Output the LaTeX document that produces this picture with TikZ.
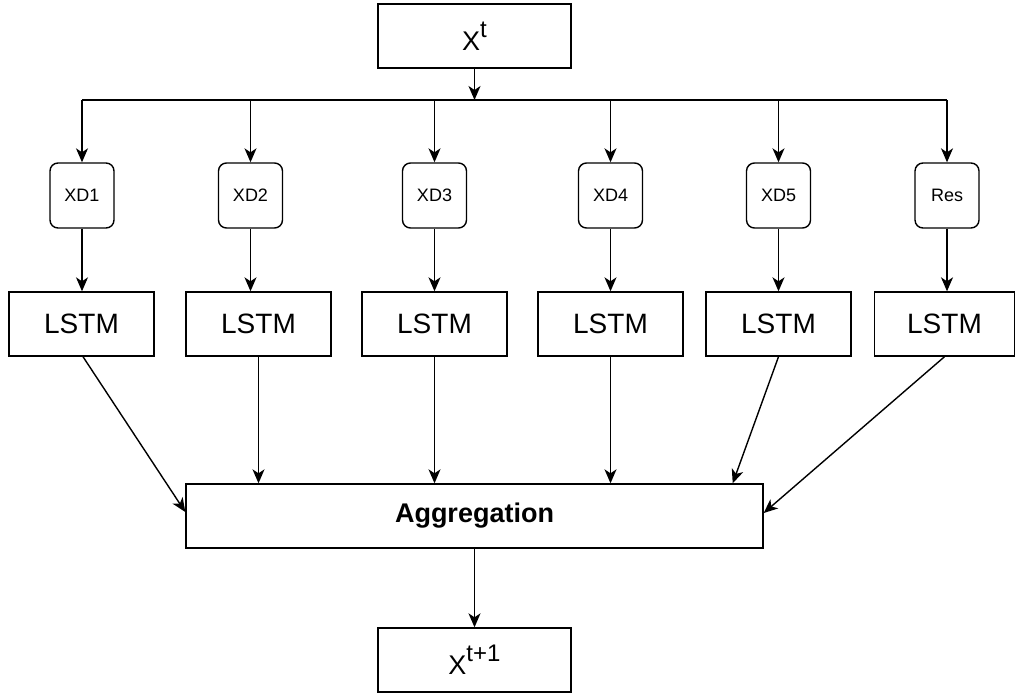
\documentclass[tikz,border=0pt]{standalone}
\usepackage{fontspec}
\setmainfont{Liberation Sans}
\usetikzlibrary{arrows.meta}
\newcommand{\xsup}[1]{X\raisebox{13pt}{\fontsize{24}{24}\selectfont #1}}

\begin{document}
\begin{tikzpicture}[x=1pt,y=-1pt,>={Stealth[length=14pt,width=12pt,inset=4pt]},line width=1.4pt]
  \tikzstyle{io}=[draw, minimum width=193pt, minimum height=64pt, inner sep=0pt,
    font=\fontsize{27}{28}\selectfont]
  \tikzstyle{part}=[draw, rounded corners=8pt, minimum width=64pt, minimum height=65pt,
    inner sep=0pt, font=\fontsize{18}{19}\selectfont]
  \tikzstyle{lstm}=[draw, minimum width=145pt, minimum height=64pt, inner sep=0pt,
    font=\fontsize{28}{29}\selectfont]
  \tikzstyle{agg}=[draw, minimum width=577pt, minimum height=64pt, inner sep=0pt,
    font=\fontsize{27}{28}\selectfont\bfseries]

  \useasboundingbox (0,0) rectangle (1016,694);

  \node[io] (xin) at (474.5,36) {\xsup{t}};
  \coordinate (bus) at (474.5,100);

  \node[part] (xd1) at (82,195.5) {XD1};
  \node[part] (xd2) at (250.5,195.5) {XD2};
  \node[part] (xd3) at (434.5,195.5) {XD3};
  \node[part] (xd4) at (610.5,195.5) {XD4};
  \node[part] (xd5) at (778.5,195.5) {XD5};
  \node[part] (res) at (947,195.5) {Res};

  \node[lstm] (lstm1) at (81.5,324) {LSTM};
  \node[lstm] (lstm2) at (258.5,324) {LSTM};
  \node[lstm] (lstm3) at (434.5,324) {LSTM};
  \node[lstm] (lstm4) at (610.5,324) {LSTM};
  \node[lstm] (lstm5) at (778.5,324) {LSTM};
  \node[lstm, minimum width=140pt] (lstm6) at (944.5,324) {LSTM};

  \node[agg] (aggr) at (474.5,516) {Aggregation};
  \node[io] (xout) at (474.5,660) {\xsup{t+1}};

  % split of the input
  \draw[->] (xin) -- (bus);
  \draw (xd1.north |- bus) -- (res.north |- bus);
  \foreach \n in {xd1,xd2,xd3,xd4,xd5,res}
    \draw[->] (\n.north |- bus) -- (\n);

  % parts to LSTMs
  \draw[->] (xd1) -- (xd1.south |- lstm1.north);
  \draw[->] (xd2) -- (xd2.south |- lstm2.north);
  \draw[->] (xd3) -- (xd3.south |- lstm3.north);
  \draw[->] (xd4) -- (xd4.south |- lstm4.north);
  \draw[->] (xd5) -- (xd5.south |- lstm5.north);
  \draw[->] (res) -- (res.south |- lstm6.north);

  % LSTMs to aggregation
  \draw[->] ([xshift=1.5pt]lstm1.south) -- ([yshift=4pt]aggr.west);
  \draw[->] (lstm2) -- (lstm2.south |- aggr.north);
  \draw[->] (lstm3) -- (lstm3.south |- aggr.north);
  \draw[->] (lstm4) -- (lstm4.south |- aggr.north);
  \draw[->] (lstm5.south) -- ([xshift=-31pt]aggr.north east);
  \draw[->] (lstm6.south) -- ([yshift=3pt]aggr.east);

  \draw[->] (aggr) -- (xout);
\end{tikzpicture}
\end{document}
